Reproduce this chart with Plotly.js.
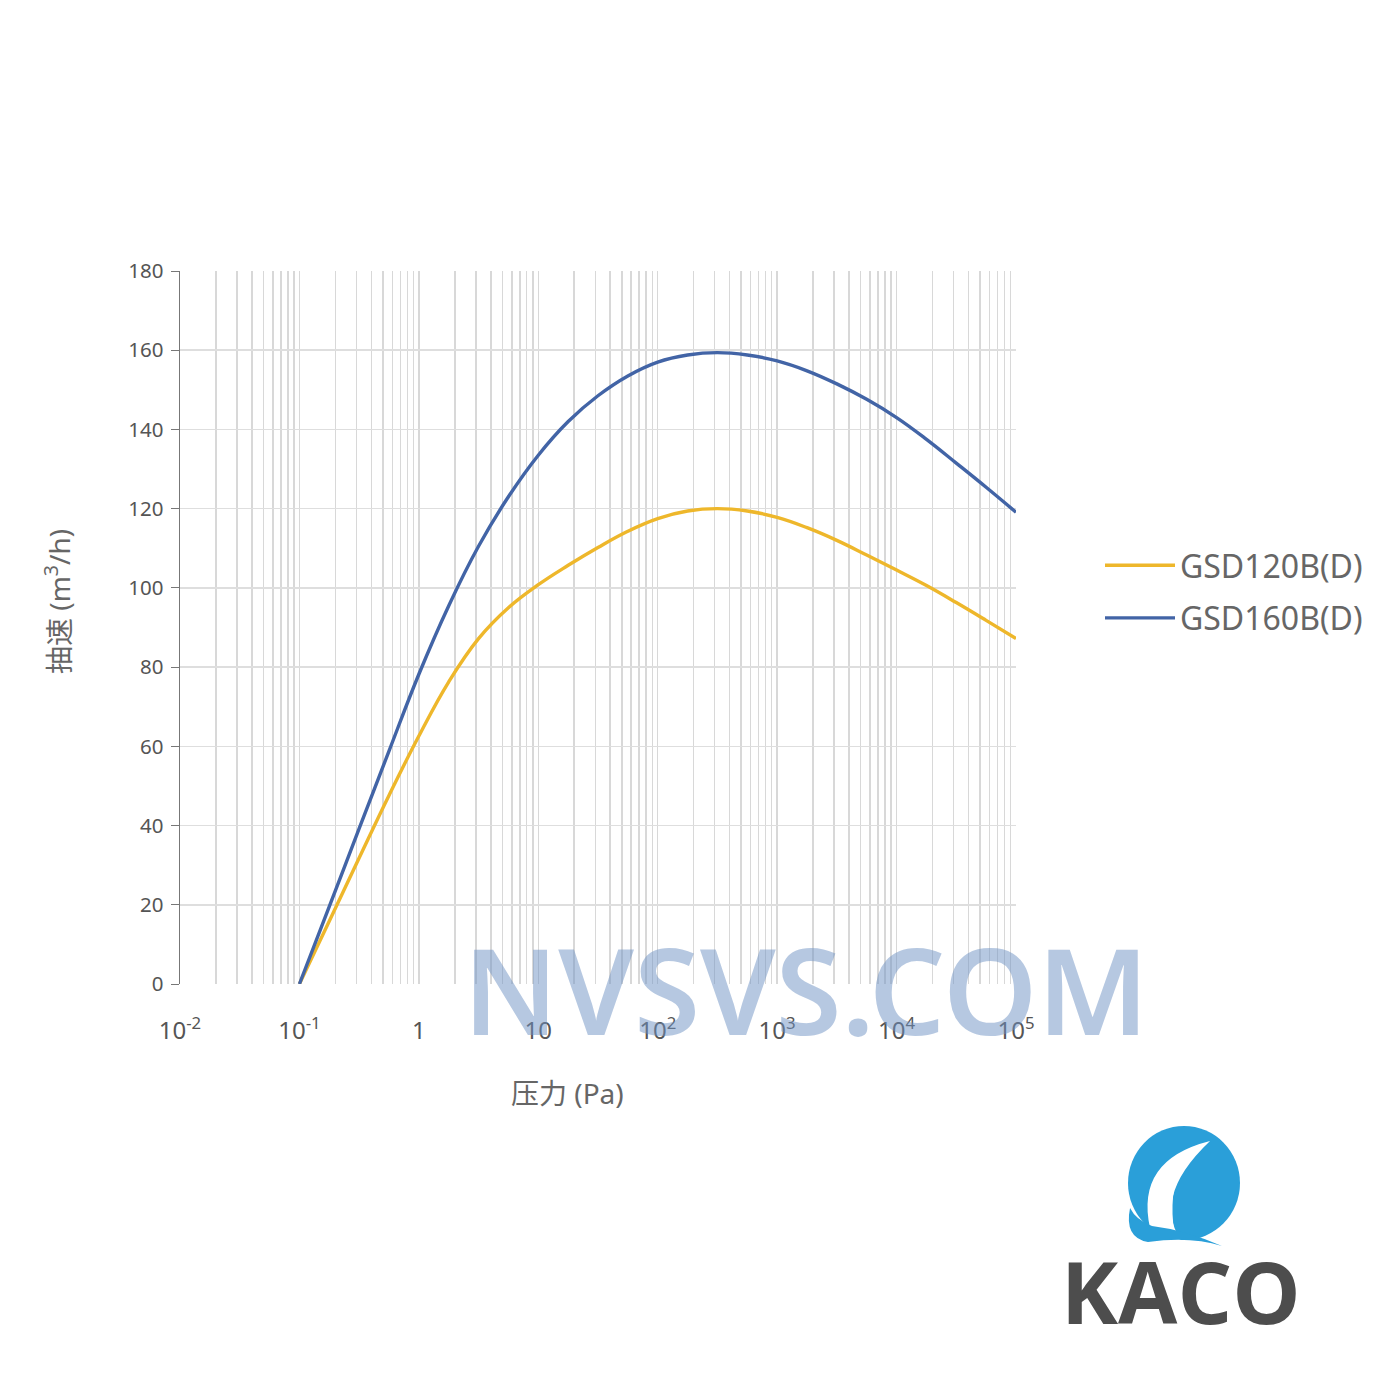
<!DOCTYPE html>
<html>
<head>
<meta charset="utf-8">
<script src="https://cdn.plot.ly/plotly-3.0.1.min.js"></script>
<style>
html,body{margin:0;padding:0;background:#fff;}
#chart{width:1400px;height:1400px;}
</style>
</head>
<body>
<div id="chart"></div>
<script>
// ---- data (values read at quarter-decade pressures) ----
const seriesNames = ["GSD120B(D)", "GSD160B(D)"];
const pressure = [0.1, 0.178, 0.316, 0.562, 1, 1.78, 3.16, 5.62, 10, 17.8, 31.6, 56.2, 100, 178, 316, 562, 1000, 1780, 3160, 5620, 10000, 17800, 31600, 56200, 100000];
const speed120 = [0, 15.9, 31.8, 47.6, 62.6, 76.3, 87.2, 95.0, 100.8, 105.7, 110.2, 114.3, 117.5, 119.4, 120, 119.4, 117.8, 115.2, 112, 108.3, 104.5, 100.6, 96.3, 91.8, 87.2];
const speed160 = [0, 19.6, 39.2, 58.8, 78.2, 95.5, 110.5, 123, 133.5, 142, 148.5, 153.5, 157, 158.8, 159.4, 158.8, 157.3, 154.8, 151.5, 147.6, 143, 137.5, 131.5, 125.4, 119.1];
const decadeValues = [0.01, 0.1, 1, 10, 100, 1000, 10000, 100000];
const decadeLabels = ["10<sup>-2</sup>", "10<sup>-1</sup>", "1", "10", "10<sup>2</sup>", "10<sup>3</sup>", "10<sup>4</sup>", "10<sup>5</sup>"];
const minorMultipliers = [2, 3, 4, 5, 6, 7, 8, 9];
const yTitle = "抽速 (m<sup>3</sup>/h)";
const xTitle = "压力 (Pa)";
const watermark = "NVSVS.COM";
const logoText = "KACO";

// minor gridlines at 2..9 within each decade
const minorVals = [];
decadeValues.slice(0, -1).forEach(d => minorMultipliers.forEach(k => minorVals.push(d * k)));

// pixel -> paper helpers for decoration
const L = 180, R = 1016, T = 271, B = 984;
const px = x => (x - L) / (R - L);
const py = y => (B - y) / (B - T);
function path(cmds) {
  return cmds.map(c => {
    if (typeof c === "string") return c;
    return px(c[0]).toFixed(4) + "," + py(c[1]).toFixed(4);
  }).join(" ");
}

const FONT = "'Noto Sans', 'Noto Sans CJK SC', sans-serif";
const GRID = "#d8d8d8";

const traces = [
  {x: pressure, y: speed120, name: seriesNames[0], legendgroup: "a", type: "scatter", mode: "lines",
   line: {color: "#eeb72b", width: 3.4, shape: "spline", smoothing: 1.2}},
  {x: pressure, y: speed160, name: seriesNames[1], legendgroup: "b", type: "scatter", mode: "lines",
   line: {color: "#4264a6", width: 3.4, shape: "spline", smoothing: 1.2}}
];

const layout = {
  width: 1400, height: 1400,
  paper_bgcolor: "#fff", plot_bgcolor: "#fff",
  margin: {l: L, r: 1400 - R, t: T, b: 1400 - B, pad: 0},
  font: {family: FONT, color: "#555"},
  showlegend: true,
  legend: {x: px(1100), xanchor: "left", y: py(592), yanchor: "middle",
           font: {size: 32, color: "#666", family: FONT}, bgcolor: "rgba(0,0,0,0)",
           tracegroupgap: 8, itemwidth: 70},
  xaxis: {type: "log", range: [-2, 5], tickmode: "array", tickvals: decadeValues, ticktext: decadeLabels,
          showgrid: true, gridcolor: GRID, gridwidth: 1.5, ticks: "", showline: false, zeroline: false,
          minor: {tickmode: "array", tickvals: minorVals, showgrid: true, gridcolor: GRID, gridwidth: 1.5, ticks: ""},
          tickfont: {size: 24, color: "#555", family: FONT}, ticklabelstandoff: 30, fixedrange: true},
  yaxis: {range: [0, 180], dtick: 20, tick0: 0, showgrid: true, gridcolor: "#dedede", gridwidth: 1.5,
          showline: true, linecolor: "#777", linewidth: 1.5, ticks: "outside", ticklen: 8, tickcolor: "#777",
          zeroline: false, tickfont: {size: 20.5, color: "#555", family: FONT}, ticklabelstandoff: 3, fixedrange: true},
  annotations: [
    {text: yTitle, xref: "paper", yref: "paper", x: px(57), y: py(602), textangle: -90,
     showarrow: false, font: {size: 28, color: "#666", family: FONT}, xanchor: "center", yanchor: "middle"},
    {text: xTitle, xref: "paper", yref: "paper", x: px(567), y: py(1093),
     showarrow: false, font: {size: 28, color: "#666", family: FONT}, xanchor: "center", yanchor: "middle"},
    {text: watermark, xref: "paper", yref: "paper", x: px(806), y: py(988),
     showarrow: false, font: {size: 120, weight: 600, color: "rgba(110,145,195,0.5)", family: "'Noto Sans', sans-serif"},
     xanchor: "center", yanchor: "middle"},
    {text: "<b>" + logoText + "</b>", xref: "paper", yref: "paper", x: px(1181), y: py(1290),
     showarrow: false, font: {size: 86, color: "#4d4d4d", family: "'Open Sans', sans-serif"},
     xanchor: "center", yanchor: "middle"}
  ],
  shapes: [
    {type: "circle", xref: "paper", yref: "paper", x0: px(1128), x1: px(1240), y0: py(1240), y1: py(1126),
     fillcolor: "#2a9fd9", line: {width: 0}, layer: "above"},
    {type: "path", xref: "paper", yref: "paper", layer: "above", fillcolor: "#ffffff", line: {width: 0},
     path: path(["M", [1210, 1141], "Q", [1135, 1160], [1150, 1228], "Q", [1158, 1243], [1178, 1246], "L", [1185, 1246],
                 "Q", [1148, 1200], [1210, 1141], "Z"])},
    {type: "path", xref: "paper", yref: "paper", layer: "above", fillcolor: "#ffffff", line: {width: 0},
     path: path(["M", [1178, 1172], "Q", [1160, 1200], [1170, 1240], "L", [1176, 1240],
                 "Q", [1168, 1205], [1178, 1172], "Z"])},
    {type: "path", xref: "paper", yref: "paper", layer: "above", fillcolor: "#2a9fd9", line: {width: 0},
     path: path(["M", [1130, 1208], "Q", [1124, 1238], [1148, 1242], "Q", [1190, 1236], [1222, 1246],
                 "Q", [1185, 1230], [1152, 1226], "Q", [1136, 1220], [1130, 1208], "Z"])}
  ]
};

Plotly.newPlot("chart", traces, layout, {staticPlot: true, displayModeBar: false});
</script>
</body>
</html>
